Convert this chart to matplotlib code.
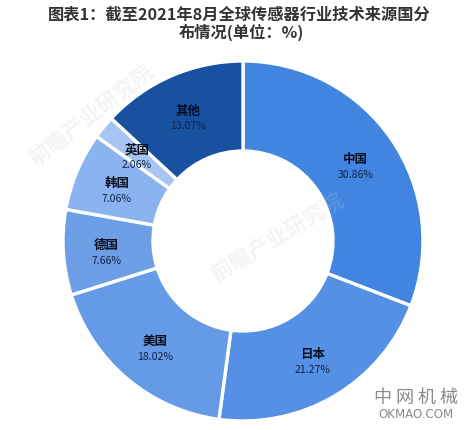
import numpy as np
import matplotlib
matplotlib.use("Agg")
import matplotlib.pyplot as plt

plt.rcParams['font.family'] = ['Noto Sans CJK SC', 'DejaVu Sans']

categories = ['中国', '日本', '美国', '德国', '韩国', '英国', '其他']
values = [30.86, 21.27, 18.02, 7.66, 7.06, 2.06, 13.07]
pct_labels = ['30.86%', '21.27%', '18.02%', '7.66%', '7.06%', '2.06%', '13.07%']
colors = ['#4285E0', '#5590E4', '#659BE6', '#6D9FE6', '#8AB3EF', '#A6C5F2', '#17519F']
title_lines = ['图表1\uff1a截至2021年8月全球传感器行业技术来源国分', '布情况(单位\uff1a%)']
watermark = '前瞻产业研究院'
W, H = 477, 431
cx, cy, R = 243, 242, 180

fig = plt.figure(figsize=(W / 100, H / 100), dpi=100, facecolor='white')
ax = fig.add_axes([(cx - R) / W, 1 - (cy + R) / H, 2 * R / W, 2 * R / H])
wedges, _ = ax.pie(values, colors=colors, startangle=90, counterclock=False, radius=1,
                   wedgeprops=dict(width=0.5, edgecolor='white', linewidth=2.4))
ax.set_xlim(-1, 1)
ax.set_ylim(-1, 1)
ax.set_aspect('equal')
ax.axis('off')

cum = np.cumsum([0] + values[:-1])
total = sum(values)
for name, pct, start, val in zip(categories, pct_labels, cum, values):
    ang = np.deg2rad((start + val / 2) / total * 360)
    x, y = 0.76 * np.sin(ang), 0.76 * np.cos(ang)
    ax.text(x, y + 0.03, name, ha='center', va='center', fontsize=9,
            fontweight='bold', color='#0A0F1E', zorder=5)
    ax.text(x, y - 0.055, pct, ha='center', va='center', fontsize=7.6,
            fontweight='medium', color='#10234A', zorder=5)

for (wx, wy, rot, fs) in [(92, 116, 38, 15.5), (278, 238, 31, 15.5)]:
    fig.text(wx / W, 1 - wy / H, watermark, rotation=rot, ha='center', va='center', fontsize=fs,
             fontweight='bold', color='#C8C8C8', alpha=0.22, zorder=-1)
    fig.text(wx / W, 1 - wy / H, watermark, rotation=rot, ha='center', va='center', fontsize=fs,
             fontweight='bold', color='white', alpha=0.13, zorder=6)

fig.text(239 / W, 1 - 15 / H, title_lines[0], ha='center', va='center', fontsize=11.7,
         fontweight='bold', color='#333333')
fig.text(241 / W, 1 - 32 / H, title_lines[1], ha='center', va='center', fontsize=11.7,
         fontweight='bold', color='#333333')

fig.text(416 / W, 1 - 398 / H, '中 网 机 械', ha='center', va='center', fontsize=13,
         color='#8A8A8A')
fig.text(416 / W, 1 - 415 / H, 'OKMAO.COM', ha='center', va='center', fontsize=8.6,
         color='#8A8A8A', family='DejaVu Sans')

fig.savefig('out.png', dpi=100, facecolor='white')
